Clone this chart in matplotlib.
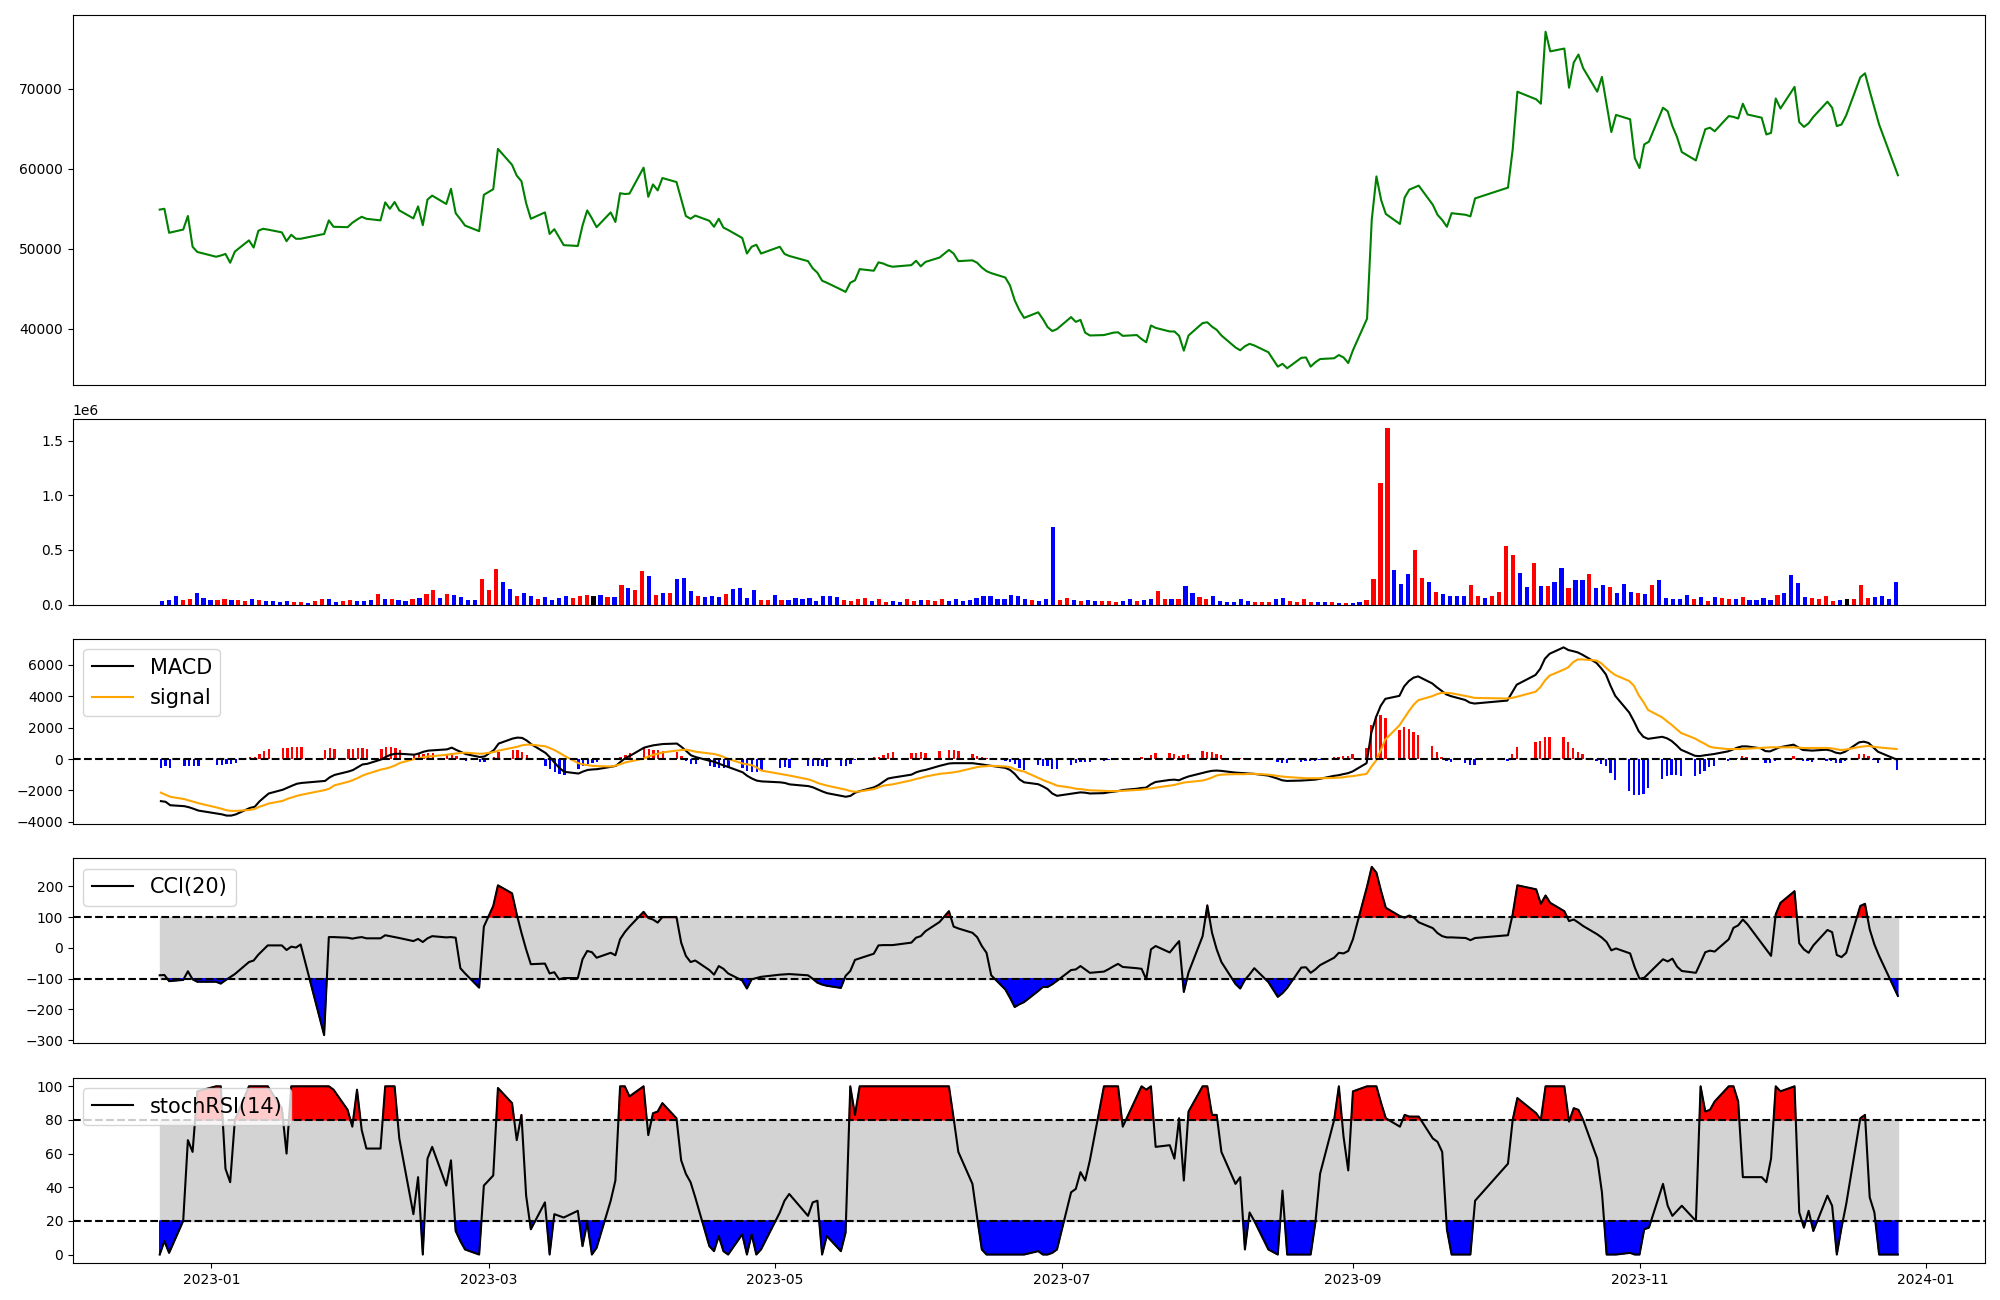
import matplotlib
matplotlib.use('Agg')
import matplotlib.pyplot as plt
import matplotlib.dates as mdates
from matplotlib.ticker import MultipleLocator
import numpy as np
import pandas as pd

# KRX trading days, 2022-12-21 .. 2023-12-26
holidays = ['2022-12-30', '2023-01-23', '2023-01-24', '2023-03-01', '2023-05-01',
            '2023-05-05', '2023-05-29', '2023-06-06', '2023-08-15', '2023-09-28',
            '2023-09-29', '2023-10-02', '2023-10-03', '2023-10-09', '2023-12-25']
dates = pd.bdate_range('2022-12-21', '2023-12-26')
dates = dates[~dates.isin(pd.to_datetime(holidays))]

close = [54900, 55000, 52000, 52400, 54100, 50250, 49600, 49000, 49150, 49350,
         48250, 49650, 51050, 50150, 52250, 52500, 52400, 52050, 50950, 51750,
         51250, 51250, 51850, 53550, 52750, 52700, 53250, 53650, 54000, 53750,
         53550, 55800, 55000, 55850, 54800, 53800, 55300, 52950, 56150, 56650,
         55600, 57500, 54450, 53700, 52900, 52200, 56750, 57450, 62500, 60500,
         59150, 58450, 55700, 53750, 54550, 51850, 52450, 51450, 50450, 50350,
         52900, 54800, 53800, 52700, 54550, 53350, 56950, 56850, 56900, 60150,
         56500, 58050, 57300, 58850, 58350, 56250, 54100, 53750, 54150, 53500,
         52750, 53750, 52650, 52350, 51350, 49400, 50250, 50500, 49400, 50250,
         49350, 49100, 48450, 47550, 47000, 46000, 45750, 44900, 44600, 45750,
         46050, 47450, 47250, 48300, 48150, 47900, 47750, 47950, 48500, 47800,
         48350, 48900, 49850, 49400, 48450, 48550, 48250, 47650, 47200, 46950,
         46400, 45400, 43550, 42300, 41350, 42050, 41200, 40200, 39700, 39950,
         41450, 40850, 41100, 39500, 39150, 39200, 39350, 39500, 39550, 39100,
         39200, 38700, 38300, 40400, 40100, 39650, 39650, 39100, 37250, 39150,
         40700, 40800, 40250, 39850, 39150, 37650, 37300, 37800, 38100, 37900,
         37050, 35250, 35600, 35050, 36350, 36400, 35250, 35800, 36200, 36300,
         36700, 36400, 35700, 37300, 41250, 53600, 59050, 56100, 54350, 53100,
         56400, 57400, 57650, 57900, 55500, 54250, 53600, 52750, 54450, 54250,
         54050, 56300, 57650, 62400, 69650, 68700, 68150, 77150, 74700, 75050,
         70150, 73300, 74300, 72600, 69650, 71500, 68050, 64600, 66750, 66200,
         61350, 60100, 63050, 63400, 67650, 67200, 65350, 63950, 62100, 61050,
         63050, 64950, 65150, 64700, 66600, 66500, 66300, 68150, 66800, 66400,
         64300, 64500, 68800, 67550, 70250, 65850, 65250, 65700, 66500, 68400,
         67650, 65350, 65550, 66700, 71450, 71950, 69750, 67650, 65550, 59200]

# volume in thousands of shares
volume_k = [31, 40, 77, 40, 49, 104, 58, 40, 40, 49,
            40, 40, 31, 49, 40, 31, 31, 21, 31, 21,
            21, 12, 31, 49, 49, 21, 31, 40, 31, 31,
            40, 95, 49, 49, 40, 31, 49, 58, 95, 132,
            58, 95, 86, 67, 40, 40, 233, 132, 325, 205,
            141, 77, 104, 77, 49, 67, 40, 58, 77, 58,
            77, 86, 77, 86, 67, 67, 178, 150, 132, 306,
            260, 86, 104, 104, 233, 242, 123, 77, 67, 77,
            67, 95, 141, 150, 58, 132, 40, 40, 86, 40,
            40, 58, 49, 58, 31, 77, 77, 67, 40, 31,
            49, 58, 31, 49, 21, 31, 21, 49, 31, 40,
            40, 31, 49, 31, 49, 31, 40, 58, 77, 77,
            49, 49, 86, 77, 49, 40, 31, 49, 711, 40,
            58, 40, 31, 40, 31, 31, 31, 21, 31, 49,
            31, 40, 49, 123, 49, 49, 49, 168, 104, 67,
            49, 77, 31, 21, 21, 49, 31, 21, 21, 21,
            49, 58, 31, 21, 49, 21, 21, 21, 21, 12,
            12, 12, 21, 40, 233, 1115, 1615, 316, 187, 279,
            499, 242, 205, 113, 95, 77, 77, 77, 178, 77,
            58, 77, 113, 536, 453, 288, 159, 380, 168, 168,
            205, 334, 150, 224, 224, 279, 150, 178, 159, 104,
            187, 113, 104, 95, 178, 224, 58, 49, 49, 86,
            49, 67, 31, 67, 58, 49, 49, 67, 40, 40,
            58, 40, 86, 104, 270, 196, 67, 58, 49, 77,
            31, 40, 49, 49, 178, 58, 67, 77, 49, 205]
volume_side = ("bbbrrbbbrr" "brrbrbbbbr" "rbrrbbrrbb" "brbrbbrbrr" "brbbbbrrrb"
               "brbbrbbbbr" "rrkbrbrbrr" "brbrbbbrbb" "brbbbbrrbr" "bbbbbbbbrr"
               "rrbrrbbrrb" "rrrbbbbbbb" "bbbbbrbbbr" "rbrbbrrrbb" "rbbrrbrbbr"
               "rbbbbbbrrr" "bbrrrrbbrb" "rbbrrrrbbb" "rrbrbbbbrr" "brrrrbbrbr"
               "bbrbbrbbrb" "bbrbrbbbbb" "rbrbrrbrbb" "bbrbbbbrrr" "rbkrrrbbbb")

macd = [-2680, -2720, -2940, -3000, -3070, -3170, -3280, -3470, -3520, -3600,
        -3600, -3520, -3110, -3040, -2700, -2440, -2190, -1950, -1820, -1690,
        -1570, -1520, -1390, -1160, -1010, -790, -690, -510, -340, -300,
        -20, 150, 280, 340, 340, 280, 360, 470, 540, 560,
        620, 730, 580, 450, 320, 130, 170, 580, 990, 1310,
        1370, 1350, 1180, 940, 390, 90, -260, -580, -810, -920,
        -790, -690, -660, -640, -490, -430, -170, 60, 210, 730,
        810, 880, 920, 960, 990, 770, 510, 240, 130, -110,
        -170, -300, -410, -510, -840, -1070, -1240, -1370, -1420, -1480,
        -1520, -1610, -1720, -1800, -1930, -2060, -2170, -2340, -2400, -2340,
        -2140, -2040, -1800, -1650, -1440, -1240, -1180, -990, -840, -750,
        -690, -430, -280, -260, -260, -260, -300, -340, -390, -430,
        -560, -690, -940, -1290, -1480, -1600, -1740, -1910, -2190, -2340,
        -2210, -2170, -2120, -2140, -2190, -2170, -2120, -2080, -2040, -1970,
        -1890, -1840, -1820, -1610, -1460, -1330, -1310, -1350, -1220, -1110,
        -880, -810, -750, -730, -750, -860, -880, -900, -920, -940,
        -1050, -1240, -1350, -1390, -1370, -1350, -1330, -1310, -1260, -1070,
        -1030, -960, -900, -790, -260, 1670, 2660, 3390, 3840, 4030,
        4630, 4970, 5190, 5270, 4820, 4570, 4350, 4120, 4010, 3770,
        3600, 3540, 3730, 4240, 4740, 5360, 5750, 6390, 6710, 7120,
        6950, 6880, 6800, 6650, 6130, 5790, 5400, 4670, 4030, 2960,
        2400, 1780, 1420, 1290, 1420, 1330, 1160, 900, 600, 210,
        190, 240, 280, 320, 490, 600, 730, 810, 810, 690,
        510, 490, 620, 750, 920, 750, 580, 560, 540, 600,
        540, 410, 360, 470, 1070, 1110, 1030, 750, 470, -30]

signal = [-2140, -2270, -2400, -2550, -2640, -2720, -2810, -3090, -3170, -3260,
          -3300, -3300, -3240, -3170, -3040, -2940, -2830, -2660, -2530, -2440,
          -2340, -2270, -1970, -1870, -1670, -1440, -1330, -1200, -1050, -940,
          -660, -600, -510, -390, -240, 0, 40, 130, 170, 190,
          280, 320, 360, 390, 410, 340, 360, 450, 540, 730,
          790, 880, 920, 920, 810, 690, 560, 390, 210, -260,
          -340, -390, -430, -450, -470, -410, -320, -210, -150, 40,
          170, 280, 340, 430, 540, 580, 600, 540, 470, 360,
          320, 240, 130, 0, -280, -340, -390, -540, -730, -940,
          -990, -1050, -1290, -1390, -1520, -1610, -1690, -1890, -1950, -2040,
          -2080, -2060, -1910, -1800, -1690, -1650, -1610, -1350, -1260, -1200,
          -1110, -940, -880, -840, -790, -580, -510, -470, -450, -430,
          -470, -510, -640, -730, -790, -1200, -1330, -1450, -1560, -1690,
          -1820, -1890, -1910, -1950, -1990, -2020, -2040, -2040, -2040, -2020,
          -1970, -1950, -1910, -1870, -1820, -1690, -1650, -1570, -1500, -1460,
          -1370, -1290, -1180, -1050, -990, -960, -960, -960, -940, -940,
          -990, -1070, -1110, -1140, -1200, -1220, -1220, -1220, -1220, -1200,
          -1180, -1160, -1110, -1090, -940, -500, -100, 550, 1250, 2150,
          2600, 3050, 3450, 3750, 4010, 4140, 4220, 4220, 4200, 4030,
          3970, 3900, 3860, 3900, 3970, 4290, 4570, 5000, 5320, 5700,
          5850, 6170, 6350, 6350, 6280, 6110, 5830, 5570, 5360, 4970,
          4670, 4070, 3640, 3130, 2660, 2420, 2190, 1930, 1670, 1310,
          1140, 990, 810, 730, 640, 640, 640, 640, 660, 710,
          730, 750, 750, 750, 750, 730, 710, 710, 710, 710,
          690, 640, 580, 600, 770, 810, 840, 790, 750, 640]

cci = [-89, -88, -108, -104, -76, -102, -110, -110, -116, -105,
       -95, -85, -46, -41, -22, -7, 8, 8, -7, 4,
       1, 11, -283, 35, 35, 33, 30, 33, 35, 31,
       31, 41, 38, 35, 32, 22, 29, 19, 31, 38,
       34, 35, 33, -66, -83, -129, 69, 136, 203, 177,
       109, 49, -5, -53, -51, -83, -79, -102, -98, -98,
       -37, -10, -14, -32, -16, -24, 28, 51, 69, 117,
       97, 92, 82, 100, 100, 17, -26, -46, -41, -72,
       -87, -59, -68, -83, -106, -132, -102, -98, -94, -87,
       -86, -85, -89, -100, -113, -119, -123, -130, -91, -75,
       -39, -34, -19, 8, 9, 9, 9, 17, 33, 38,
       54, 84, 119, 69, 63, 49, 35, 6, -16, -89,
       -135, -162, -192, -183, -176, -140, -127, -127, -118, -107,
       -72, -70, -59, -70, -81, -77, -69, -60, -52, -62,
       -66, -68, -102, -5, 6, -15, 4, 22, -143, -80,
       38, 138, 49, -5, -46, -117, -132, -104, -86, -66,
       -111, -159, -147, -130, -64, -63, -81, -70, -56, -32,
       -16, -18, -10, 28, 199, 263, 244, 184, 130, 103,
       98, 105, 98, 83, 64, 48, 38, 34, 34, 32,
       25, 32, 41, 109, 203, 190, 143, 170, 146, 119,
       87, 92, 82, 71, 44, 33, 19, -8, -2, -18,
       -64, -100, -97, -82, -37, -44, -35, -61, -75, -81,
       -48, -14, -9, -12, 28, 65, 73, 92, 76, 15,
       -5, -26, 109, 146, 184, 15, -5, -16, 8, 58,
       51, -23, -30, -16, 136, 143, 60, 11, -26, -156]

stoch_rsi = [0, 8, 1, 20, 68, 61, 97, 100, 100, 51,
             43, 80, 100, 100, 100, 100, 100, 87, 60, 100,
             100, 100, 100, 100, 98, 86, 76, 98, 74, 63,
             63, 100, 100, 100, 69, 24, 46, 0, 57, 64,
             41, 56, 14, 8, 3, 0, 41, 47, 99, 90,
             68, 83, 35, 15, 31, 0, 24, 23, 22, 26,
             5, 19, 0, 4, 32, 44, 100, 100, 94, 100,
             71, 84, 85, 90, 81, 56, 48, 43, 34, 5,
             2, 11, 2, 0, 12, 0, 12, 0, 3, 25,
             32, 36, 23, 31, 32, 0, 11, 2, 13, 100,
             83, 100, 100, 100, 100, 100, 100, 100, 100, 100,
             100, 100, 100, 81, 61, 42, 22, 3, 0, 0,
             0, 0, 0, 0, 0, 2, 0, 0, 1, 3,
             37, 39, 49, 44, 56, 100, 100, 100, 100, 76,
             94, 100, 98, 100, 64, 65, 57, 81, 44, 85,
             100, 100, 83, 83, 61, 42, 46, 3, 25, 20,
             3, 0, 38, 0, 0, 0, 0, 19, 48, 80,
             100, 70, 50, 97, 100, 100, 100, 90, 81, 76,
             83, 82, 82, 82, 69, 67, 61, 15, 0, 0,
             0, 32, 54, 80, 93, 84, 80, 100, 100, 100,
             79, 87, 86, 80, 57, 37, 0, 0, 0, 1,
             0, 0, 15, 16, 42, 29, 23, 26, 29, 20,
             100, 85, 86, 91, 100, 100, 91, 46, 46, 46,
             43, 57, 100, 97, 100, 25, 16, 26, 14, 35,
             29, 0, 16, 30, 81, 83, 34, 25, 0, 0]

close = np.array(close)
volume = np.array(volume_k) * 1000
macd = np.array(macd)
signal = np.array(signal)
hist = macd - signal
cci = np.array(cci)
stoch_rsi = np.array(stoch_rsi)
side_color = {'r': 'red', 'b': 'blue', 'k': 'black'}
vol_colors = [side_color[c] for c in volume_side]
hist_colors = ['red' if h > 0 else 'blue' for h in hist]

fig = plt.figure(figsize=(20, 13), dpi=100)
gs = fig.add_gridspec(5, 1, height_ratios=[2, 1, 1, 1, 1], left=0.0364, right=0.9924,
                      top=0.9885, bottom=0.0285, hspace=0.155)
ax1 = fig.add_subplot(gs[0])
ax2 = fig.add_subplot(gs[1])
ax3 = fig.add_subplot(gs[2])
ax4 = fig.add_subplot(gs[3])
ax5 = fig.add_subplot(gs[4])

# price
ax1.plot(dates, close, color='green', lw=1.5)
ax1.set_xticks([])

# volume
ax2.bar(np.arange(len(volume)), volume, color=vol_colors, width=0.6)
ax2.set_xticks([])

# MACD
ax3.bar(dates, hist, color=hist_colors, width=0.5)
ax3.plot(dates, macd, color='black', lw=1.5, label='MACD')
ax3.plot(dates, signal, color='orange', lw=1.5, label='signal')
ax3.axhline(0, color='black', ls='--', lw=1.5)
ax3.legend(loc='upper left', fontsize=15)
ax3.set_xticks([])

# CCI
ax4.fill_between(dates, -100, 100, color='lightgray')
ax4.fill_between(dates, cci, 100, where=cci >= 100, interpolate=True, color='red')
ax4.fill_between(dates, cci, -100, where=cci <= -100, interpolate=True, color='blue')
ax4.plot(dates, cci, color='black', lw=1.5, label='CCI(20)')
ax4.axhline(100, color='black', ls='--', lw=1.5)
ax4.axhline(-100, color='black', ls='--', lw=1.5)
ax4.yaxis.set_major_locator(MultipleLocator(100))
ax4.legend(loc='upper left', fontsize=15)
ax4.set_xticks([])

# stochastic RSI
ax5.fill_between(dates, 20, 80, color='lightgray')
ax5.fill_between(dates, stoch_rsi, 80, where=stoch_rsi >= 80, interpolate=True, color='red')
ax5.fill_between(dates, stoch_rsi, 20, where=stoch_rsi <= 20, interpolate=True, color='blue')
ax5.plot(dates, stoch_rsi, color='black', lw=1.5, label='stochRSI(14)')
ax5.axhline(80, color='black', ls='--', lw=1.5)
ax5.axhline(20, color='black', ls='--', lw=1.5)
ax5.legend(loc='upper left', fontsize=15)
ax5.xaxis.set_major_locator(mdates.MonthLocator(bymonth=[1, 3, 5, 7, 9, 11]))
ax5.xaxis.set_major_formatter(mdates.DateFormatter('%Y-%m'))

fig.savefig('out.png', dpi=100)
